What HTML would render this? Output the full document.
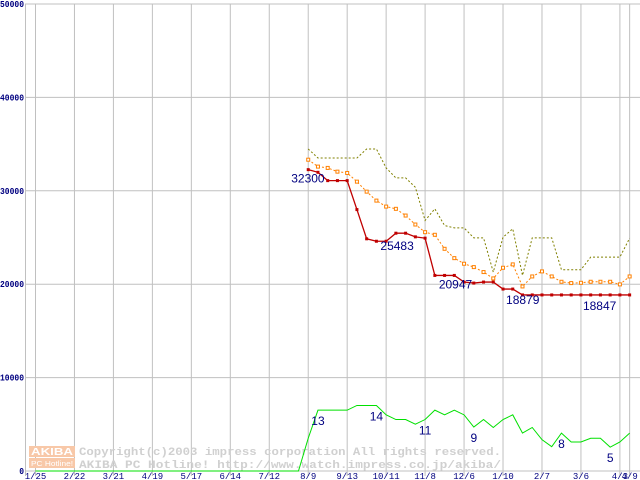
<!DOCTYPE html>
<html><head><meta charset="utf-8"><style>
html,body{margin:0;padding:0;background:#fff;width:640px;height:480px;overflow:hidden}
svg{display:block}
</style></head><body>
<svg id="chart" width="640" height="480" xmlns="http://www.w3.org/2000/svg"></svg>
<script>
const yTicks=[0,10000,20000,30000,40000,50000];
const xLabels=["1/25","2/22","3/21","4/19","5/17","6/14","7/12","8/9","9/13","10/11","11/8","12/6","1/10","2/7","3/6","4/3","4/9"];
const xLabelIdx=[0,4,8,12,16,20,24,28,32,36,40,44,48,52,56,60,61];
const startIdx=28;
const minPrice=[32265,31980,31090,31090,31090,27990,24860,24600,24600,25460,25460,25070,24930,20940,20940,20940,20230,20120,20230,20230,19480,19480,18850,18850,18850,18850,18850,18850,18850,18850,18850,18850,18850,18850];
const avgPrice=[33330,32590,32450,32050,31910,30980,29910,28950,28310,28070,27350,26390,25570,25290,23790,22790,22190,21830,21300,20620,21760,22120,19760,20830,21370,20830,20260,20120,20150,20260,20260,20260,19980,20830];
const maxPrice=[34480,33510,33510,33510,33510,33510,34480,34480,32450,31380,31380,30380,26820,28070,26280,26030,26030,24960,24960,21300,25030,25930,20940,24960,24960,24960,21550,21550,21550,22900,22900,22900,22900,24930];
const shopCount=[0,0,0,0,0,0,0,0,0,0,0,0,0,0,0,0,0,0,0,0,0,0,0,0,0,0,0,0,7,13,13,13,13,14,14,14,12,11,11,10,11,13,12,13,12,9.4,11,9.3,11,12,8.1,9.3,6.7,5.2,8.1,6.2,6.2,7,7,5.1,6.2,8.1];
const priceLabels=[{i:28,t:"32300",dx:-17,dy:13},{i:35,t:"25483",dx:4,dy:9},{i:41,t:"20947",dx:4,dy:13},{i:48,t:"18879",dx:3,dy:15},{i:56,t:"18847",dx:2,dy:15}];
const countLabels=[{i:29,t:"13"},{i:35,t:"14"},{i:40,t:"11"},{i:45,t:"9"},{i:54,t:"8"},{i:59,t:"5"}];

const NS="http://www.w3.org/2000/svg";
const svg=document.getElementById('chart');
const X=i=>35.5+i*9.74;
const Y=v=>471-v*0.00934;
const YC=c=>471-c*4.68;
function el(tag,attrs,parent){const e=document.createElementNS(NS,tag);for(const k in attrs)e.setAttribute(k,attrs[k]);(parent||svg).appendChild(e);return e;}

const grid=el('g',{});


yTicks.forEach(v=>{
  const l=el('line',{x1:25,x2:640,y1:Y(v),y2:Y(v),stroke:'#c0c0c0','stroke-width':1},grid);
  
  
  const s=String(v);
  const t=el('text',{x:24,y:Y(v)+3,'text-anchor':'end','font-family':'Liberation Mono, monospace','font-size':9,'font-weight':'bold',fill:'#000080',textLength:s.length*4.8,lengthAdjust:'spacingAndGlyphs'});
  t.textContent=s;
  
  
});
xLabelIdx.forEach((ix,k)=>{
  const l=el('line',{x1:X(ix),x2:X(ix),y1:4,y2:476,stroke:'#c0c0c0','stroke-width':1},grid);
  
  
  const t=el('text',{x:X(ix),y:479,'text-anchor':'middle','font-family':'Liberation Mono, monospace','font-size':9,fill:'#000080'});
  t.textContent=xLabels[k];
  
  
});
const ax=el('line',{x1:25.5,x2:25.5,y1:4,y2:476,stroke:'#c0c0c0','stroke-width':1});



const wm=el('g',{});


el('rect',{x:29,y:446,width:46,height:11,fill:'#f8c8a8'},wm);
el('rect',{x:29,y:458,width:46,height:10,fill:'#f8c8a8'},wm);
const w1=el('text',{x:31,y:455,'font-family':'Liberation Sans, sans-serif','font-size':10,'font-weight':'bold',fill:'#fff',textLength:42,lengthAdjust:'spacingAndGlyphs'},wm);w1.textContent="AKIBA";
const w2=el('text',{x:31,y:466,'font-family':'Liberation Sans, sans-serif','font-size':7,fill:'#fff',textLength:42,lengthAdjust:'spacingAndGlyphs'},wm);w2.textContent="PC Hotline!";
const w3=el('text',{x:79,y:455,'font-family':'Liberation Mono, monospace','font-size':11,'font-weight':'bold',fill:'#d0d0d0',textLength:422,lengthAdjust:'spacingAndGlyphs'},wm);w3.textContent="Copyright(c)2003 impress corporation All rights reserved.";
const w4=el('text',{x:79,y:468,'font-family':'Liberation Mono, monospace','font-size':11,'font-weight':'bold',fill:'#d0d0d0',textLength:422,lengthAdjust:'spacingAndGlyphs'},wm);w4.textContent="AKIBA PC Hotline!  http://www.watch.impress.co.jp/akiba/";

function pts(arr,off,fy){return arr.map((v,k)=>X(k+off)+','+fy(v)).join(' ');}
const g=el('polyline',{points:pts(shopCount,0,YC),fill:'none',stroke:'#00e000','stroke-width':1});


const mx=el('polyline',{points:pts(maxPrice,startIdx,Y),fill:'none',stroke:'#808000','stroke-width':1,'stroke-dasharray':'2,2'});


const av=el('polyline',{points:pts(avgPrice,startIdx,Y),fill:'none',stroke:'#ff8000','stroke-width':1,'stroke-dasharray':'2,2'});


avgPrice.forEach((v,k)=>{
  const r=el('rect',{x:X(k+startIdx)-1.5,y:Y(v)-1.5,width:3,height:3,fill:'#fff',stroke:'#ff8000','stroke-width':1});
  
  
});
const mn=el('polyline',{points:pts(minPrice,startIdx,Y),fill:'none',stroke:'#c00000','stroke-width':1.3});


minPrice.forEach((v,k)=>{
  const r=el('rect',{x:X(k+startIdx)-1.5,y:Y(v)-1.5,width:3,height:3,fill:'#c00000'});
  
  
});
priceLabels.forEach(p=>{
  const t=el('text',{x:X(p.i)+p.dx,y:Y(minPrice[p.i-startIdx])+p.dy,'font-family':'Liberation Sans, sans-serif','font-size':12,fill:'#000080'});
  t.textContent=p.t;
  
  
});
countLabels.forEach(p=>{
  const t=el('text',{x:X(p.i),y:YC(shopCount[p.i])+15,'font-family':'Liberation Sans, sans-serif','font-size':12,fill:'#000080','text-anchor':'middle'});
  t.textContent=p.t;
  
  
});
</script>
</body></html>
